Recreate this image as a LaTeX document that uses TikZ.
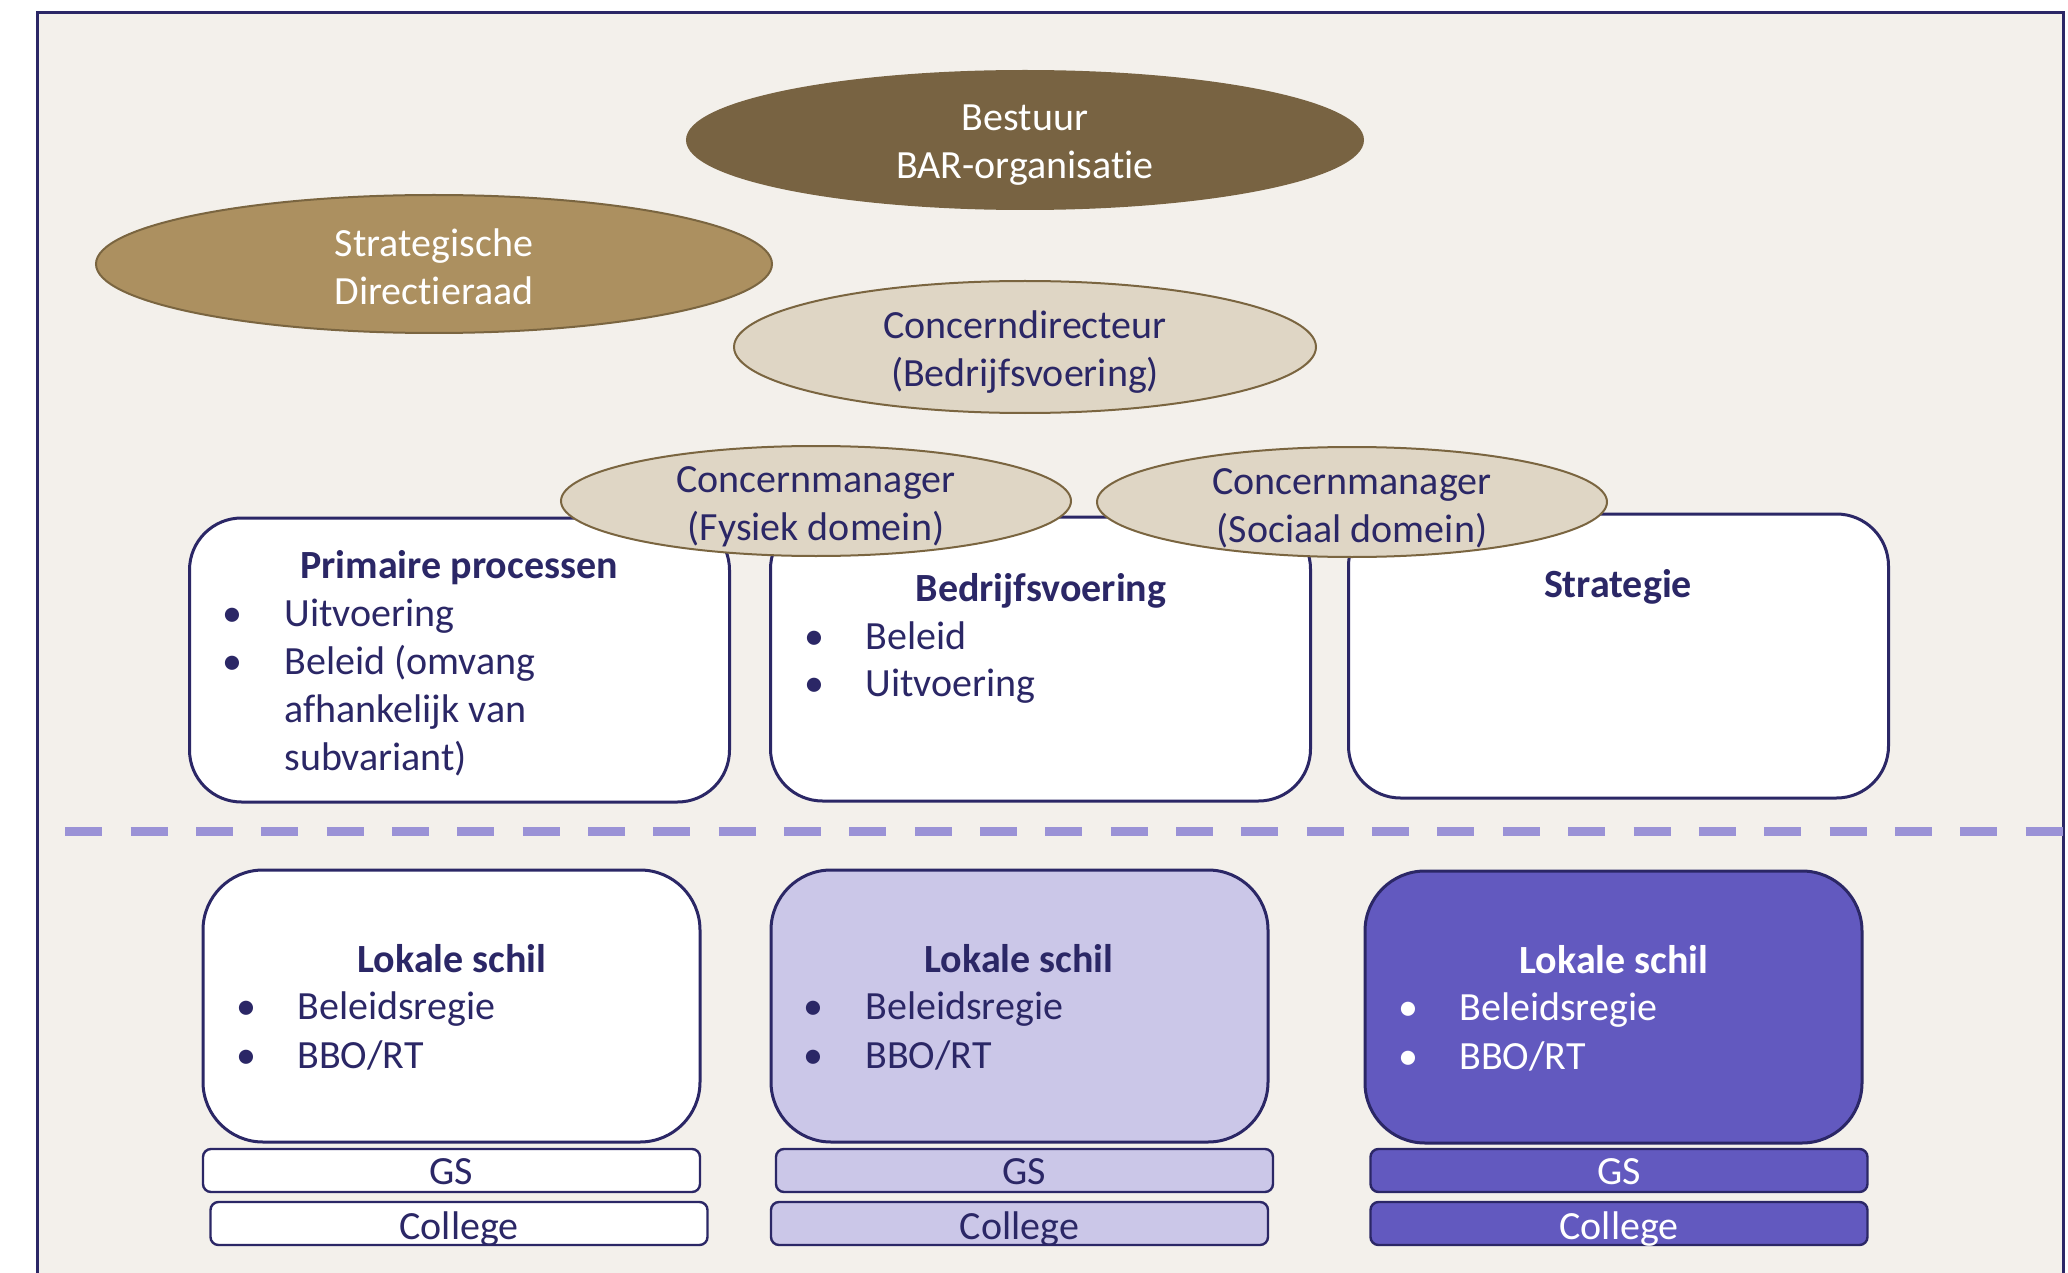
\documentclass[tikz,border=0pt]{standalone}
\usepackage{fontspec}
\setmainfont{Carlito}[Ligatures=NoCommon]
\usetikzlibrary{shapes.geometric}
\definecolor{navy}{HTML}{2B2766}
\definecolor{bg}{HTML}{F3F0EB}
\definecolor{darkbrown}{HTML}{786342}
\definecolor{midbrown}{HTML}{AC9060}
\definecolor{lightbrown}{HTML}{DFD6C5}
\definecolor{edgebrown}{HTML}{7A6540}
\definecolor{lilac}{HTML}{CBC7E8}
\definecolor{violet}{HTML}{6259BF}
\definecolor{dashcol}{HTML}{9A92D6}
\begin{document}
\begin{tikzpicture}[x=0.5pt,y=-0.5pt,
  font=\fontsize{20pt}{24pt}\selectfont,
  oval/.style={ellipse, draw=edgebrown, line width=1pt, inner sep=0pt},
  ovaltext/.style={align=center, inner sep=0pt},
  panel/.style={draw=navy, line width=1.5pt, fill=white, inner sep=0pt,
    minimum width=270pt, minimum height=142pt, rounded corners=26pt},
  shell/.style={draw=navy, line width=1.5pt, inner sep=0pt,
    minimum width=248.5pt, minimum height=136pt, rounded corners=30pt},
  strip/.style={draw=navy, line width=1.2pt, inner sep=0pt, rounded corners=4pt,
    minimum width=248.5pt, minimum height=21.5pt, text height=16pt, text depth=2pt},
  lowstrip/.style={strip, text height=17pt, text depth=1pt},
  ttl/.style={font=\fontsize{20pt}{24pt}\selectfont\bfseries, text=navy, anchor=mid, inner sep=0pt},
  item/.style={text=navy, anchor=mid west, inner sep=0pt},
]
\useasboundingbox (0,0) rectangle (2068,1273);
\fill[white] (0,0) rectangle (2068,1273);
% outer frame
\draw[navy, line width=1.5pt, fill=bg] (37,13) rectangle (2063,1300);

% governance ovals
\node[oval, draw=darkbrown, fill=darkbrown, minimum width=338pt, minimum height=69pt]
  (bestuur) at (1025,140) {};
\node[ovaltext, text=white, yshift=-2.5pt] (bestuurT) at (bestuur) {Bestuur\\BAR-organisatie};
\node[oval, fill=midbrown, minimum width=338pt, minimum height=69pt]
  (sdr) at (434,264) {};
\node[ovaltext, text=white, yshift=-1.5pt] (sdrT) at (sdr) {Strategische\\Directieraad};
\node[oval, fill=lightbrown, minimum width=291pt, minimum height=66pt]
  (cd) at (1025,347) {};
\node[ovaltext, text=navy, yshift=-2.5pt] (cdT) at (cd) {Concerndirecteur\\(Bedrijfsvoering)};

% upper panels
\node[panel] (prim) at (459.5,660) {};
\node[panel] (bv) at (1040.5,659) {};
\node[panel] (strat) at (1618.5,656) {};

% concern managers
\node[oval, fill=lightbrown, minimum width=255pt, minimum height=55pt]
  (cmf) at (816,501) {};
\node[ovaltext, text=navy, yshift=-3pt] (cmfT) at (cmf) {Concernmanager\\(Fysiek domein)};
\node[oval, fill=lightbrown, minimum width=255pt, minimum height=55pt]
  (cms) at (1352,502) {};
\node[ovaltext, text=navy, yshift=-3pt] (cmsT) at (cms) {Concernmanager\\(Sociaal domein)};

% panel texts
\node[ttl] (primT) at (459,574) {Primaire processen};
\node[item] (primB1) at (222,622) {•};
\node[item] (primI1) at (284,622) {Uitvoering};
\node[item] (primB2) at (222,670) {•};
\node[item] (primI2) at (284,670) {Beleid (omvang};
\node[item] (primI3) at (284,718) {afhankelijk van};
\node[item] (primI4) at (284,766) {subvariant)};

\node[ttl] (bvT) at (1041,597) {Bedrijfsvoering};
\node[item] (bvB1) at (804,645) {•};
\node[item] (bvI1) at (865,645) {Beleid};
\node[item] (bvB2) at (804,692) {•};
\node[item] (bvI2) at (865,692) {Uitvoering};

\node[ttl] (strT) at (1618,593) {Strategie};

% separator
\draw[dashcol, line width=4.5pt, dash pattern=on 18.5pt off 14.17pt, dash phase=18.5pt]
  (37,831) -- (2063,831);

% local shells
\node[shell, fill=white] (ls1) at (451.5,1006) {};
\node[shell, fill=lilac] (ls2) at (1019.5,1006) {};
\node[shell, fill=violet] (ls3) at (1613.5,1007) {};

\node[ttl] (ls1T) at (452,968) {Lokale schil};
\node[item] (ls1B1) at (236,1015) {•};
\node[item] (ls1I1) at (297,1015) {Beleidsregie};
\node[item] (ls1B2) at (236,1064) {•};
\node[item] (ls1I2) at (297,1064) {BBO/RT};

\node[ttl] (ls2T) at (1019,968) {Lokale schil};
\node[item] (ls2B1) at (803,1015) {•};
\node[item] (ls2I1) at (865,1015) {Beleidsregie};
\node[item] (ls2B2) at (803,1064) {•};
\node[item] (ls2I2) at (865,1064) {BBO/RT};

\node[ttl, text=white] (ls3T) at (1614,969) {Lokale schil};
\node[item, text=white] (ls3B1) at (1398,1016) {•};
\node[item, text=white] (ls3I1) at (1459,1016) {Beleidsregie};
\node[item, text=white] (ls3B2) at (1398,1065) {•};
\node[item, text=white] (ls3I2) at (1459,1065) {BBO/RT};

% GS and College strips
\node[strip, fill=white, text=navy] (gs1) at (451.5,1170.5) {GS};
\node[lowstrip, fill=white, text=navy] (col1) at (459,1223.5) {College};
\node[strip, fill=lilac, text=navy] (gs2) at (1024.5,1170.5) {GS};
\node[lowstrip, fill=lilac, text=navy] (col2) at (1019.5,1223.5) {College};
\node[strip, fill=violet, text=white] (gs3) at (1619,1170.5) {GS};
\node[lowstrip, fill=violet, text=white] (col3) at (1619,1223.5) {College};
\end{tikzpicture}
\end{document}
